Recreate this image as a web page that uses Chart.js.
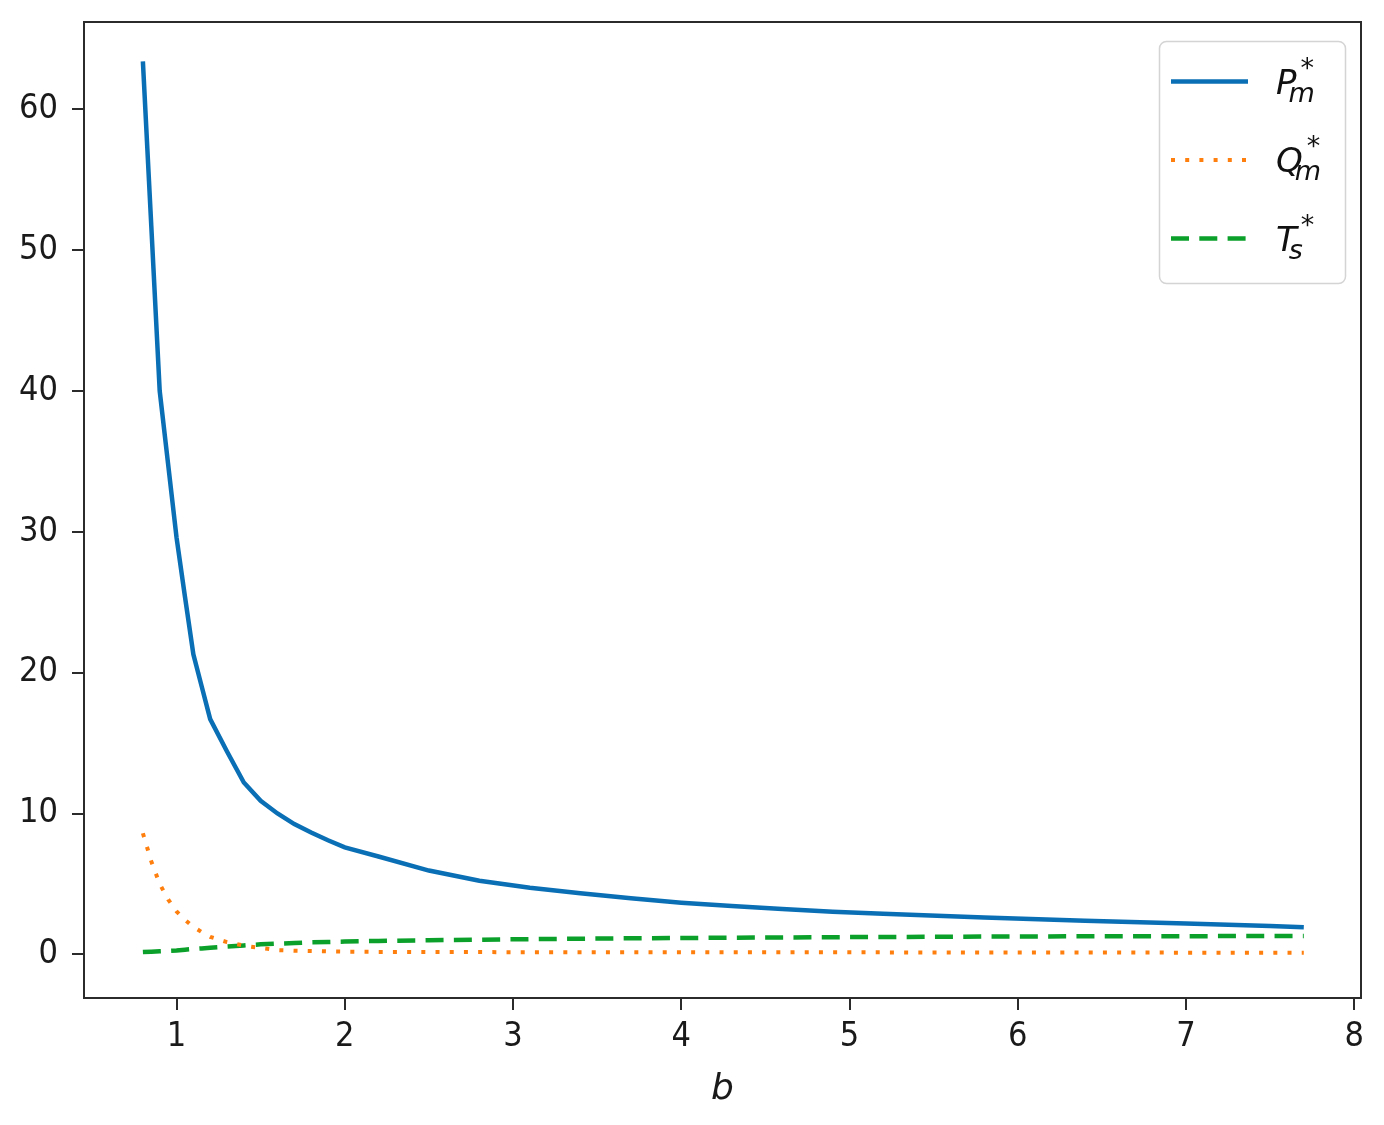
<!DOCTYPE html>
<html><head><meta charset="utf-8">
<script src="https://cdn.jsdelivr.net/npm/chart.js@4.4.0/dist/chart.umd.min.js"></script>
<style>html,body{margin:0;padding:0;background:#fff;}#wrap{position:relative;width:1384px;height:1125px;}</style>
</head><body><div id="wrap"><canvas id="c" width="1384" height="1125"></canvas></div>
<script>
// ---- data ----
const bValues = [0.8, 0.85, 0.9, 0.95, 1.0, 1.05, 1.1, 1.15, 1.2, 1.3, 1.4, 1.5, 1.6, 1.7, 1.8, 1.9, 2.0, 2.2, 2.5, 2.8, 3.1, 3.4, 3.7, 4.0, 4.3, 4.6, 4.9, 5.2, 5.8, 6.4, 7.0, 7.5, 7.7];
const P_m = [63.4, 51.7, 40.0, 34.8, 29.6, 25.4, 21.3, 19.0, 16.7, 14.4, 12.2, 10.9, 10.0, 9.25, 8.65, 8.1, 7.6, 6.95, 5.95, 5.23, 4.73, 4.33, 3.98, 3.67, 3.43, 3.22, 3.03, 2.88, 2.62, 2.38, 2.19, 2.01, 1.92];
const Q_m = [8.6, 6.6, 5.0, 3.9, 3.05, 2.45, 1.95, 1.58, 1.24, 0.87, 0.62, 0.45, 0.30, 0.26, 0.24, 0.21, 0.19, 0.17, 0.16, 0.16, 0.15, 0.15, 0.15, 0.15, 0.14, 0.14, 0.14, 0.14, 0.13, 0.13, 0.12, 0.12, 0.12];
const T_s = [0.16, 0.19, 0.22, 0.25, 0.28, 0.33, 0.38, 0.42, 0.47, 0.55, 0.63, 0.71, 0.76, 0.80, 0.85, 0.88, 0.91, 0.95, 1.00, 1.04, 1.08, 1.11, 1.14, 1.16, 1.18, 1.20, 1.22, 1.23, 1.26, 1.28, 1.29, 1.30, 1.30];
const xTicks = [1, 2, 3, 4, 5, 6, 7, 8];
const yTicks = [0, 10, 20, 30, 40, 50, 60];
const seriesSymbols = ['P', 'Q', 'T'];
const seriesSubs = ['m', 'm', 's'];
const xTitle = 'b';

const pts = ys => bValues.map((x, i) => ({x: x, y: ys[i]}));
const TICK_FONT = {family: "'Liberation Sans Narrow', 'DejaVu Sans Condensed', 'Liberation Sans', sans-serif", size: 34};
const AXIS_COLOR = '#2b2b2b';
const MATH_FONT = "'DejaVu Sans', sans-serif";

const boxPlugin = {
  id: 'box',
  afterDatasetsDraw(chart) {
    const {ctx, chartArea: a} = chart;
    ctx.save();
    ctx.strokeStyle = AXIS_COLOR;
    ctx.lineWidth = 2;
    ctx.strokeRect(a.left, a.top, a.right - a.left, a.bottom - a.top);
    ctx.restore();
  }
};

const legendPlugin = {
  id: 'mathLegend',
  afterDraw(chart) {
    const ctx = chart.ctx;
    ctx.save();
    const bx = 1159.5, by = 41.5, bw = 186, bh = 242, r = 7;
    ctx.beginPath();
    ctx.moveTo(bx + r, by);
    ctx.arcTo(bx + bw, by, bx + bw, by + bh, r);
    ctx.arcTo(bx + bw, by + bh, bx, by + bh, r);
    ctx.arcTo(bx, by + bh, bx, by, r);
    ctx.arcTo(bx, by, bx + bw, by, r);
    ctx.closePath();
    ctx.fillStyle = 'rgba(255,255,255,0.85)';
    ctx.fill();
    ctx.strokeStyle = '#d4d4d4';
    ctx.lineWidth = 1.5;
    ctx.stroke();
    chart.data.datasets.forEach((ds, i) => {
      const ly = 81.5 + i * 78.5;
      ctx.beginPath();
      ctx.setLineDash(ds.borderDash || []);
      ctx.lineCap = 'butt';
      ctx.strokeStyle = ds.borderColor;
      ctx.lineWidth = ds.borderWidth;
      ctx.moveTo(1171, ly);
      ctx.lineTo(1248, ly);
      ctx.stroke();
      ctx.setLineDash([]);
      ctx.fillStyle = '#111';
      ctx.textBaseline = 'alphabetic';
      ctx.textAlign = 'left';
      const mx = 1276;
      ctx.font = "italic 34px " + MATH_FONT;
      ctx.fillText(seriesSymbols[i], mx, ly + 12);
      const w = ctx.measureText(seriesSymbols[i]).width;
      ctx.font = "italic 27px " + MATH_FONT;
      ctx.fillText(seriesSubs[i], mx + w - 8, ly + 20);
      ctx.font = "27px " + MATH_FONT;
      ctx.fillText('*', mx + w + 4, ly - 5);
    });
    ctx.restore();
  }
};

new Chart(document.getElementById('c'), {
  type: 'line',
  data: {
    datasets: [
      {label: 'P*m', data: pts(P_m), borderColor: '#0a6fb5', borderWidth: 4.5, pointRadius: 0, tension: 0, fill: false},
      {label: 'Q*m', data: pts(Q_m), borderColor: '#ff7f0e', borderWidth: 4, borderDash: [4, 10.2], borderCapStyle: 'butt', pointRadius: 0, tension: 0, fill: false},
      {label: 'T*s', data: pts(T_s), borderColor: '#0aa02a', borderWidth: 4.5, borderDash: [18, 10.3], borderCapStyle: 'butt', pointRadius: 0, tension: 0, fill: false}
    ]
  },
  options: {
    responsive: false,
    animation: false,
    devicePixelRatio: 1,
    layout: {padding: {top: 22, right: 23, left: 0, bottom: 0}},
    plugins: {legend: {display: false}, tooltip: {enabled: false}},
    scales: {
      x: {
        type: 'linear', min: 0.45, max: 8.04,
        afterBuildTicks: s => { s.ticks = xTicks.map(v => ({value: v})); },
        afterFit: s => { s.height = 127; s.paddingLeft = 0; s.paddingRight = 0; },
        ticks: {font: TICK_FONT, color: '#1a1a1a', padding: 7, maxRotation: 0, callback: v => String(v)},
        grid: {display: true, drawOnChartArea: false, drawTicks: true, tickLength: 12, color: AXIS_COLOR, lineWidth: 2},
        border: {display: true, color: AXIS_COLOR, width: 2},
        title: {display: true, text: xTitle, color: '#1a1a1a', font: {family: MATH_FONT, size: 36, style: 'italic'}, padding: {top: 0, bottom: 14}}
      },
      y: {
        type: 'linear', min: -3.1, max: 66.2,
        afterBuildTicks: s => { s.ticks = yTicks.map(v => ({value: v})); },
        afterFit: s => { s.width = 84; s.paddingTop = 0; s.paddingBottom = 0; },
        ticks: {font: TICK_FONT, color: '#1a1a1a', padding: 14, callback: v => String(v)},
        grid: {display: true, drawOnChartArea: false, drawTicks: true, tickLength: 12, color: AXIS_COLOR, lineWidth: 2},
        border: {display: true, color: AXIS_COLOR, width: 2}
      }
    }
  },
  plugins: [boxPlugin, legendPlugin]
});
</script></body></html>
